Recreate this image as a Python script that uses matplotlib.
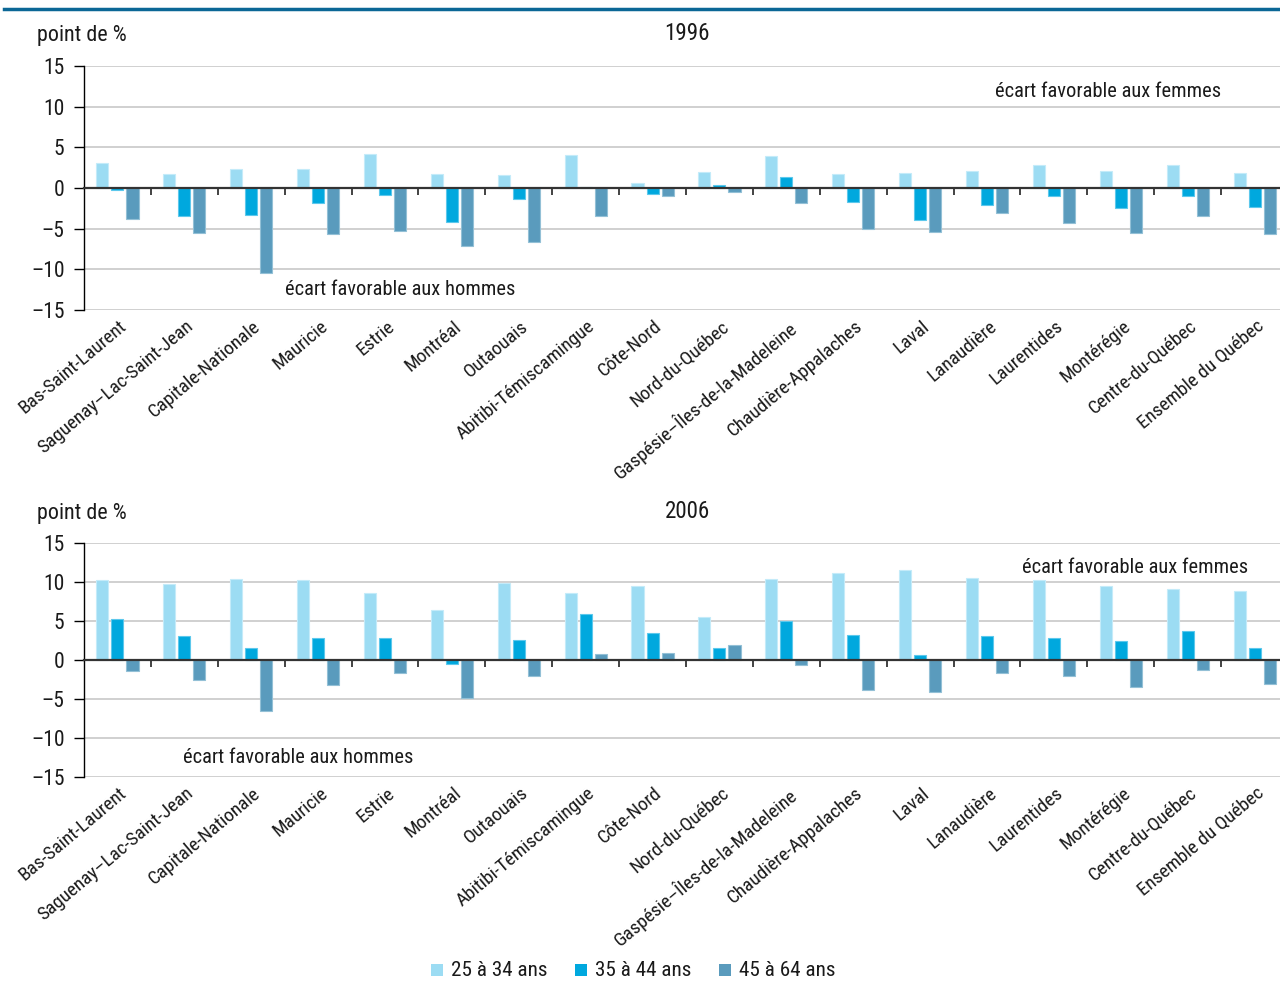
import matplotlib
matplotlib.use("Agg")
import matplotlib.pyplot as plt
import matplotlib.transforms as mtransforms
from matplotlib import font_manager
from matplotlib.patches import Rectangle
import numpy as np

# pick a narrow face if one is installed
entries = font_manager.fontManager.ttflist
names = {f.name for f in entries}
FONT = "DejaVu Sans"
for cand in ["Liberation Sans Narrow", "Roboto Condensed", "Open Sans Condensed",
             "Noto Sans Condensed", "DejaVu Sans Condensed", "Arial Narrow"]:
    if cand in names:
        FONT = cand
        break
else:
    narrow = [f for f in entries if f.stretch in ("condensed", "semi-condensed")
              and f.name in ("Roboto", "Open Sans", "Noto Sans", "DejaVu Sans", "Inter", "Lato")]
    if narrow:
        FONT = narrow[0].name
        plt.rcParams["font.stretch"] = narrow[0].stretch
plt.rcParams["font.family"] = [FONT, "DejaVu Sans"]

regions = ["Bas-Saint-Laurent", "Saguenay–Lac-Saint-Jean", "Capitale-Nationale",
           "Mauricie", "Estrie", "Montréal", "Outaouais", "Abitibi-Témiscamingue",
           "Côte-Nord", "Nord-du-Québec", "Gaspésie–Îles-de-la-Madeleine",
           "Chaudière-Appalaches", "Laval", "Lanaudière", "Laurentides",
           "Montérégie", "Centre-du-Québec", "Ensemble du Québec"]
age_groups = ["25 à 34 ans", "35 à 44 ans", "45 à 64 ans"]

# 1996
y1996_25_34 = [3.1, 1.75, 2.3, 2.3, 4.2, 1.7, 1.55, 4.1, 0.65, 1.95, 3.95, 1.75,
               1.85, 2.05, 2.8, 2.05, 2.85, 1.9]
y1996_35_44 = [-0.3, -3.4, -3.3, -1.9, -0.8, -4.2, -1.4, 0.1, -0.7, 0.35, 1.3, -1.7,
               -3.9, -2.1, -1.0, -2.45, -0.95, -2.3]
y1996_45_64 = [-3.8, -5.5, -10.5, -5.6, -5.3, -7.1, -6.6, -3.5, -1.0, -0.5, -1.8, -5.1,
               -5.35, -3.1, -4.3, -5.5, -3.5, -5.7]
# 2006
y2006_25_34 = [10.2, 9.8, 10.4, 10.3, 8.6, 6.4, 9.9, 8.6, 9.55, 5.55, 10.4, 11.2,
               11.6, 10.55, 10.2, 9.5, 9.05, 8.9]
y2006_35_44 = [5.2, 3.1, 1.6, 2.8, 2.8, -0.55, 2.6, 5.95, 3.45, 1.6, 4.95, 3.2,
               0.7, 3.1, 2.8, 2.5, 3.75, 1.6]
y2006_45_64 = [-1.45, -2.55, -6.6, -3.2, -1.65, -4.9, -2.05, 0.75, 0.9, 1.95, -0.65, -3.85,
               -4.15, -1.7, -2.05, -3.4, -1.3, -3.1]

colors = ["#9cdcf3", "#00a8de", "#5a9bbd"]
edges = ["#c4ebf9", "#5cc8ec", "#93c0d6"]
TXT = "#1a1a1a"
W, H = 1280, 981

fig = plt.figure(figsize=(W / 100, H / 100), dpi=100)

# scale text so its width matches the narrow face of the reference
probe = fig.text(0, 0, "écart favorable aux femmes", fontsize=16)
rend = fig.canvas.get_renderer()
scale = min(1.0, 227.0 / probe.get_window_extent(rend).width)
probe.remove()
FS = 16 * scale          # body text
FS_TICK = 15.5 if scale < 0.95 else 14
FS_HEAD = FS * 1.12


def panel(ax, series, fem_x, hom_x):
    x = np.arange(len(regions))
    bw = 0.18
    gap = 0.225
    for i, vals in enumerate(series):
        ax.bar(x + (i - 1) * gap, vals, bw, color=colors[i], edgecolor=edges[i],
               linewidth=0.8, zorder=3)
    ax.set_xlim(-0.5, 17.38)
    ax.set_ylim(-15, 15)
    ax.set_yticks([-15, -10, -5, 0, 5, 10, 15])
    ax.set_yticklabels(["–15", "–10", "–5", "0", "5", "10", "15"])
    ax.yaxis.grid(True, color="#c8c8c8", linewidth=1.2, zorder=0)
    ax.set_axisbelow(True)
    for s in ["top", "right"]:
        ax.spines[s].set_visible(False)
    ax.spines["left"].set_linewidth(1.0)
    ax.spines["bottom"].set_position(("data", 0))
    ax.spines["bottom"].set_color("#333333")
    ax.spines["bottom"].set_linewidth(1.6)
    ax.spines["bottom"].set_zorder(4)
    ax.set_xticks(np.arange(0.5, 17.5, 1.0))
    ax.set_xticklabels([])
    ax.tick_params(axis="x", direction="out", length=5, width=1.2, color="#222222")
    ax.tick_params(axis="y", direction="out", length=7, width=1.0, labelsize=FS_TICK,
                   pad=7, labelcolor=TXT)
    tr = mtransforms.blended_transform_factory(ax.transData, ax.transAxes)
    for xi, name in zip(x, regions):
        ax.text(xi + 0.02, -0.03, name, transform=tr, rotation=40, ha="right", va="top",
                rotation_mode="anchor", fontsize=FS * 0.94, color=TXT)
    ax.text(fem_x, 11.9, "écart favorable aux femmes", ha="right", va="center",
            fontsize=FS, color=TXT)
    ax.text(hom_x, -12.5, "écart favorable aux hommes", ha="left", va="center",
            fontsize=FS, color=TXT)


ax1 = fig.add_axes([84 / W, 1 - 310 / H, (W - 84) / W, 244 / H])
ax2 = fig.add_axes([84 / W, 1 - 777 / H, (W - 84) / W, 234 / H])
panel(ax1, [y1996_25_34, y1996_35_44, y1996_45_64], 16.5, 2.5)
panel(ax2, [y2006_25_34, y2006_35_44, y2006_45_64], 16.9, 0.98)

for ytop, year in [(34, "1996"), (511, "2006")]:
    fig.text(687 / W, 1 - ytop / H, year, ha="center", va="center", fontsize=FS_HEAD, color=TXT)
    fig.text(37 / W, 1 - (ytop + 2) / H, "point de %", ha="left", va="center",
             fontsize=FS * 1.08, color=TXT)

# top rule
fig.add_artist(plt.Line2D([4 / W, 1], [1 - 9 / H, 1 - 9 / H], color="#0b6796", linewidth=2.5))

# legend
lx = [431, 575, 719]
for i, lab in enumerate(age_groups):
    fig.add_artist(Rectangle((lx[i] / W, 1 - 976 / H), 12 / W, 12 / H,
                             facecolor=colors[i], edgecolor="none"))
    fig.text((lx[i] + 20) / W, 1 - 970 / H, lab, ha="left", va="center",
             fontsize=FS * 1.03, color=TXT)

fig.savefig("out.png", dpi=100)
